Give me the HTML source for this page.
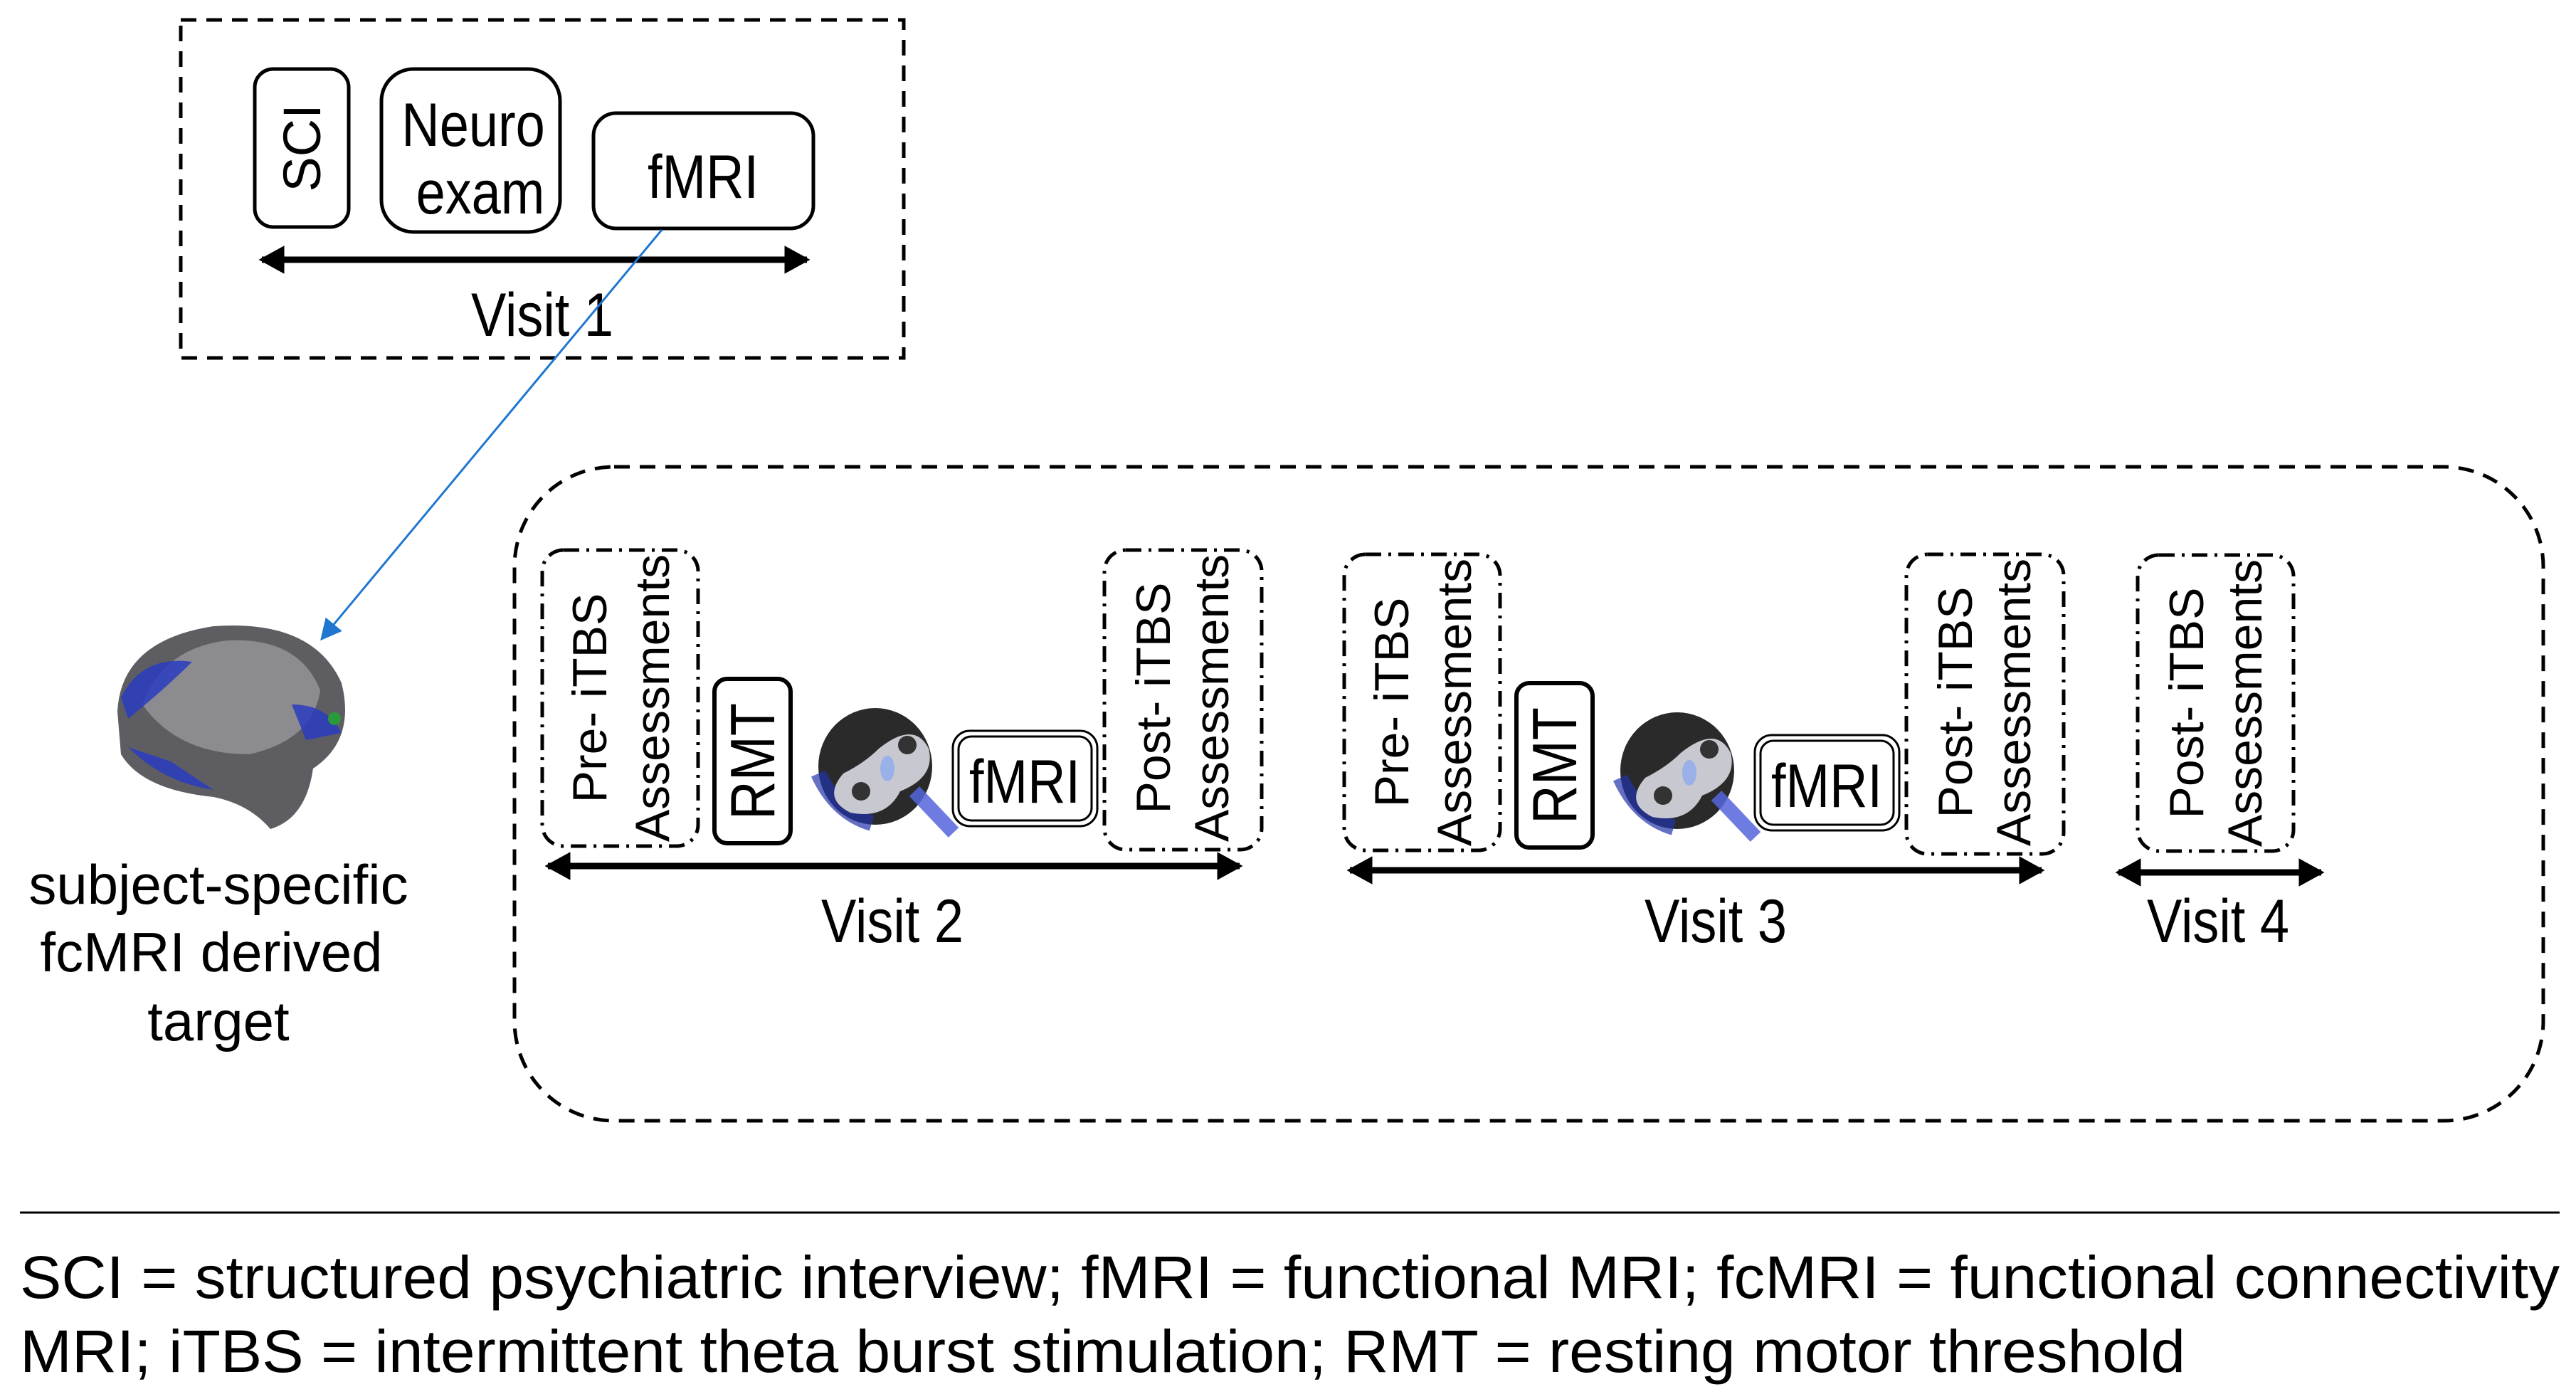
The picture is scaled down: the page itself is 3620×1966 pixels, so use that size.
<!DOCTYPE html>
<html><head><meta charset="utf-8"><style>html,body{margin:0;padding:0;background:#fff}svg{display:block}</style></head>
<body>
<svg width="3620" height="1966" viewBox="0 0 3620 1966" xmlns="http://www.w3.org/2000/svg">
<defs>
<marker id="ah" markerWidth="4" markerHeight="4.4" refX="3.5" refY="2.2" orient="auto-start-reverse" markerUnits="strokeWidth"><path d="M0,0 L4,2.2 L0,4.4 z" fill="#000"/></marker>
<marker id="bh" markerWidth="10" markerHeight="10" refX="9" refY="5" orient="auto" markerUnits="strokeWidth"><path d="M0,0 L10,5 L0,10 z" fill="#1f77d0"/></marker>
<g id="head">
<ellipse cx="95" cy="85" rx="80" ry="82" fill="#2a2a2a"/>
<path d="M15 95 Q40 150 90 165" stroke="#2233aa" stroke-width="22" fill="none" opacity="0.7"/>
<path d="M100 60 Q150 20 170 60 Q180 100 130 120 Q110 160 60 150 Q20 130 50 95 Q80 80 100 60Z" fill="#c8c8d0"/>
<circle cx="140" cy="55" r="13" fill="#333"/>
<circle cx="75" cy="120" r="13" fill="#333"/>
<ellipse cx="112" cy="88" rx="10" ry="18" fill="#9ab0e8"/>
<path d="M150 120 L205 178" stroke="#5566dd" stroke-width="20" opacity="0.85"/>
</g>
</defs>
<style>
text{font-family:"Liberation Sans",Arial,sans-serif;fill:#000}
.r{font-size:68px}
</style>

<!-- Visit 1 -->
<rect x="254" y="28" width="1016" height="475" fill="none" stroke="#000" stroke-width="5" stroke-dasharray="22,14"/>
<rect x="358" y="97" width="132" height="222" rx="26" fill="none" stroke="#000" stroke-width="5"/>
<text transform="translate(450,208) rotate(-90)" text-anchor="middle" font-size="74">SCI</text>
<rect x="536" y="97" width="251" height="229" rx="45" fill="none" stroke="#000" stroke-width="5"/>
<text transform="translate(665,205) scale(0.86,1)" text-anchor="middle" font-size="86">Neuro</text>
<text transform="translate(675,300) scale(0.86,1)" text-anchor="middle" font-size="86">exam</text>
<rect x="834" y="159" width="309" height="162" rx="32" fill="none" stroke="#000" stroke-width="5"/>
<text transform="translate(988,278) scale(0.86,1)" text-anchor="middle" font-size="86">fMRI</text>
<line x1="368" y1="365" x2="1134" y2="365" stroke="#000" stroke-width="9" marker-start="url(#ah)" marker-end="url(#ah)"/>
<text transform="translate(762,472) scale(0.86,1)" text-anchor="middle" font-size="86">Visit 1</text>

<!-- blue arrow -->
<line x1="930" y1="323" x2="452" y2="898" stroke="#1f77d0" stroke-width="3" marker-end="url(#bh)"/>

<!-- brain -->
<path d="M165 1000 Q170 900 300 880 Q440 870 480 960 Q500 1040 440 1080 Q430 1150 380 1165 Q350 1130 300 1120 Q200 1110 170 1060Z" fill="#5e5e62"/>
<path d="M200 990 Q230 910 320 900 Q420 895 450 970 Q440 1040 350 1060 Q250 1060 200 990Z" fill="#8c8c90"/>
<path d="M170 980 Q200 920 270 930 Q230 970 180 1010Z" fill="#2a3cc0" opacity="0.85"/>
<path d="M180 1050 Q230 1100 300 1110 L240 1070Z" fill="#2a3cc0" opacity="0.85"/>
<path d="M410 990 Q460 990 480 1030 L430 1040Z" fill="#2a3cc0" opacity="0.85"/>
<circle cx="470" cy="1010" r="9" fill="#2b9a3a"/>
<text x="307" y="1270" text-anchor="middle" font-size="78">subject-specific</text>
<text x="297" y="1365" text-anchor="middle" font-size="78">fcMRI derived</text>
<text x="307" y="1462" text-anchor="middle" font-size="78">target</text>

<!-- big box -->
<rect x="723" y="656" width="2851" height="919" rx="140" fill="none" stroke="#000" stroke-width="5" stroke-dasharray="22,14"/>

<!-- Visit 2 -->
<g id="v2">
<rect x="762" y="773" width="219" height="416" rx="30" fill="none" stroke="#000" stroke-width="5" stroke-dasharray="22,10,4,10"/>
<text class="r" transform="translate(852,981) rotate(-90)" text-anchor="middle">Pre- iTBS</text>
<text class="r" transform="translate(940,981) rotate(-90)" text-anchor="middle">Assessments</text>
<rect x="1004" y="954" width="107" height="231" rx="18" fill="none" stroke="#000" stroke-width="6"/>
<text transform="translate(1088,1070) rotate(-90) scale(0.86,1)" text-anchor="middle" font-size="88">RMT</text>
<use href="#head" x="1135" y="992"/>
<rect x="1339" y="1027" width="203" height="134" rx="24" fill="none" stroke="#000" stroke-width="3"/>
<rect x="1347" y="1035" width="187" height="118" rx="18" fill="none" stroke="#000" stroke-width="3"/>
<text transform="translate(1440,1128) scale(0.86,1)" text-anchor="middle" font-size="86">fMRI</text>
<rect x="1552" y="773" width="221" height="421" rx="30" fill="none" stroke="#000" stroke-width="5" stroke-dasharray="22,10,4,10"/>
<text class="r" transform="translate(1644,981) rotate(-90)" text-anchor="middle">Post- iTBS</text>
<text class="r" transform="translate(1726,981) rotate(-90)" text-anchor="middle">Assessments</text>
<line x1="770" y1="1217" x2="1742" y2="1217" stroke="#000" stroke-width="9" marker-start="url(#ah)" marker-end="url(#ah)"/>
</g>
<text transform="translate(1254,1324) scale(0.86,1)" text-anchor="middle" font-size="86">Visit 2</text>

<!-- Visit 3 -->
<use href="#v2" x="1127" y="6"/>
<text transform="translate(2411,1324) scale(0.86,1)" text-anchor="middle" font-size="86">Visit 3</text>

<!-- Visit 4 -->
<rect x="3004" y="780" width="219" height="416" rx="30" fill="none" stroke="#000" stroke-width="5" stroke-dasharray="22,10,4,10"/>
<text class="r" transform="translate(3096,988) rotate(-90)" text-anchor="middle">Post- iTBS</text>
<text class="r" transform="translate(3178,988) rotate(-90)" text-anchor="middle">Assessments</text>
<line x1="2977" y1="1226" x2="3262" y2="1226" stroke="#000" stroke-width="9" marker-start="url(#ah)" marker-end="url(#ah)"/>
<text transform="translate(3117,1324) scale(0.86,1)" text-anchor="middle" font-size="86">Visit 4</text>

<!-- footnote -->
<line x1="28" y1="1704" x2="3597" y2="1704" stroke="#000" stroke-width="3"/>
<text x="28" y="1824" font-size="84" textLength="3569" lengthAdjust="spacingAndGlyphs">SCI = structured psychiatric interview; fMRI = functional MRI; fcMRI = functional connectivity</text>
<text x="28" y="1928" font-size="84" textLength="3043" lengthAdjust="spacingAndGlyphs">MRI; iTBS = intermittent theta burst stimulation; RMT = resting motor threshold</text>
</svg>
</body></html>
